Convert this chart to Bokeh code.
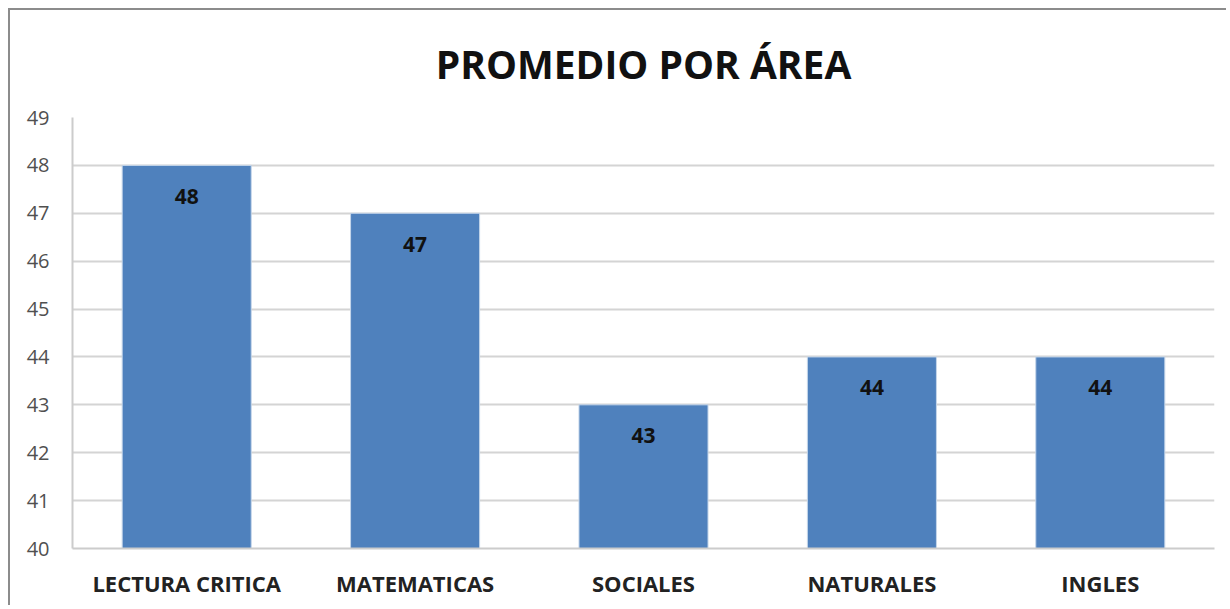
from bokeh.plotting import figure
from bokeh.models import Range1d, FixedTicker, ColumnDataSource
from bokeh.core.properties import value
from bokeh.embed import file_html
from bokeh.resources import INLINE

categories = ["LECTURA CRITICA", "MATEMATICAS", "SOCIALES", "NATURALES", "INGLES"]
scores = [48, 47, 43, 44, 44]
y_ticks = [40, 41, 42, 43, 44, 45, 46, 47, 48, 49]
title_text = "PROMEDIO POR ÁREA"

FONT = "Open Sans"

src = ColumnDataSource(dict(cat=categories, val=scores, lab=[str(v) for v in scores]))

p = figure(x_range=categories, y_range=Range1d(40, 49),
           width=1218, height=597, output_backend="svg", toolbar_location=None,
           min_border_left=62, min_border_right=14, min_border_bottom=59, min_border_top=4)

p.styles = {"margin-left": "8px", "margin-top": "8px",
            "border-left": "2px solid #8c8c8c", "border-top": "2px solid #8c8c8c"}

p.title.text = title_text
p.title.align = "center"
p.title.vertical_align = "top"
p.title.text_font = FONT
p.title.text_font_size = "39px"
p.title.text_font_style = "bold"
p.title.text_color = "#111111"
p.title.offset = -19
p.title.standoff = 52

p.vbar(x="cat", top="val", bottom=40, width=0.565, source=src,
       fill_color="#4f81bd", line_color="#c5d6ea", line_width=1)

p.text(x="cat", y="val", text="lab", source=src, y_offset=31,
       text_align="center", text_baseline="middle",
       text_font=value(FONT), text_font_size="21px", text_font_style="bold",
       text_color="#111111")

p.yaxis.ticker = FixedTicker(ticks=y_ticks)
p.ygrid.ticker = FixedTicker(ticks=y_ticks)
p.ygrid.grid_line_color = "#d4d4d4"
p.ygrid.grid_line_width = 2
p.xgrid.grid_line_color = None

for ax in (p.xaxis, p.yaxis):
    ax.axis_line_color = "#cccccc"
    ax.axis_line_width = 2
    ax.major_tick_line_color = None
    ax.minor_tick_line_color = None
    ax.major_tick_out = 0
    ax.major_tick_in = 0
    ax.minor_tick_out = 0
    ax.minor_tick_in = 0
    ax.major_label_text_font = FONT

p.yaxis.major_label_text_font_size = "20px"
p.yaxis.major_label_text_color = "#505050"
p.yaxis.major_label_standoff = 23

p.xaxis.major_label_text_font_size = "22px"
p.xaxis.major_label_text_font_style = "bold"
p.xaxis.major_label_text_color = "#222222"
p.xaxis.major_label_standoff = 19

p.outline_line_color = None
p.x_range.range_padding = 0

open("out.html", "w").write(file_html(p, INLINE))
